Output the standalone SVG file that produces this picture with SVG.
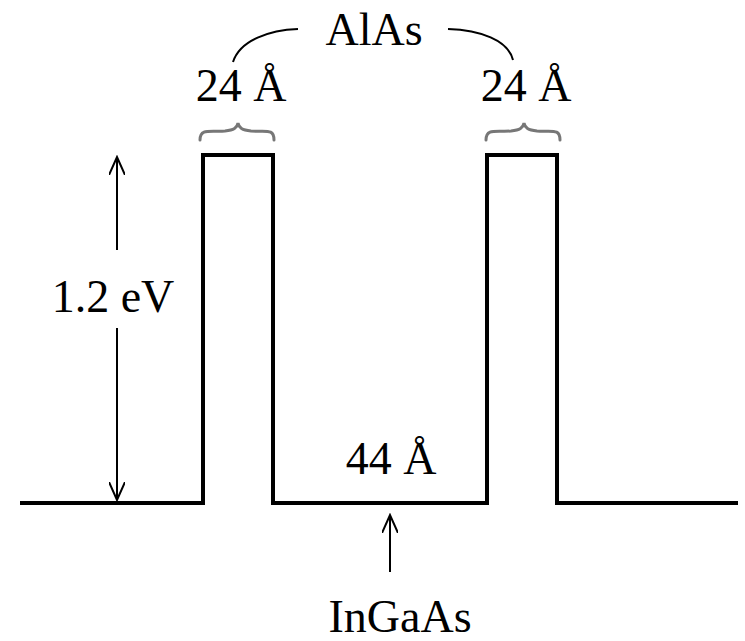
<svg xmlns="http://www.w3.org/2000/svg" width="745" height="641" viewBox="0 0 745 641">
<style>
text{font-family:"Liberation Serif","Times New Roman",serif;font-size:46px;fill:#000;text-anchor:middle}
.prof{fill:none;stroke:#000;stroke-width:4;stroke-linejoin:miter}
.ln{fill:none;stroke:#000;stroke-width:2}
.brace{fill:none;stroke:#777;stroke-width:3;stroke-linecap:round}
</style>
<defs>
<marker id="ah" viewBox="0 0 20 16" refX="18" refY="8" markerWidth="20" markerHeight="16" markerUnits="userSpaceOnUse" orient="auto">
<path d="M0,0 L18,8 L0,16" fill="none" stroke="#000" stroke-width="2"/>
</marker>
</defs>
<g id="profile">
<path class="prof" d="M20,503 H203 V155 H273 V503 H487 V155 H557 V503 H738"/>
</g>
<g id="connectors">
<line class="ln" x1="117" y1="250" x2="117" y2="157" marker-end="url(#ah)"/>
<line class="ln" x1="117" y1="328" x2="117" y2="500" marker-end="url(#ah)"/>
<line class="ln" x1="390" y1="572" x2="390" y2="515" marker-end="url(#ah)"/>
<path class="ln" d="M233,62 C240,40 270,30 298,29"/>
<path class="ln" d="M448,29 C480,30 508,40 513,60"/>
</g>
<g id="brace-left">
<path class="brace" d="M200,140 C200,128 210,132 225,131 C234,130 237,128 238,123 C239,128 242,130 251,131 C266,132 274,128 274,140"/>
</g>
<g id="brace-right">
<path class="brace" d="M486,140 C486,128 496,132 511,131 C520,130 523,128 524,123 C525,128 528,130 537,131 C552,132 560,128 560,140"/>
</g>
<g id="label-alas"><text x="374" y="45">AlAs</text></g>
<g id="label-24-left"><text x="241" y="101">24 Å</text></g>
<g id="label-24-right"><text x="526" y="101">24 Å</text></g>
<g id="label-ev"><text x="113" y="312">1.2 eV</text></g>
<g id="label-44"><text x="391" y="474">44 Å</text></g>
<g id="label-ingaas"><text x="400" y="632">InGaAs</text></g>
</svg>
